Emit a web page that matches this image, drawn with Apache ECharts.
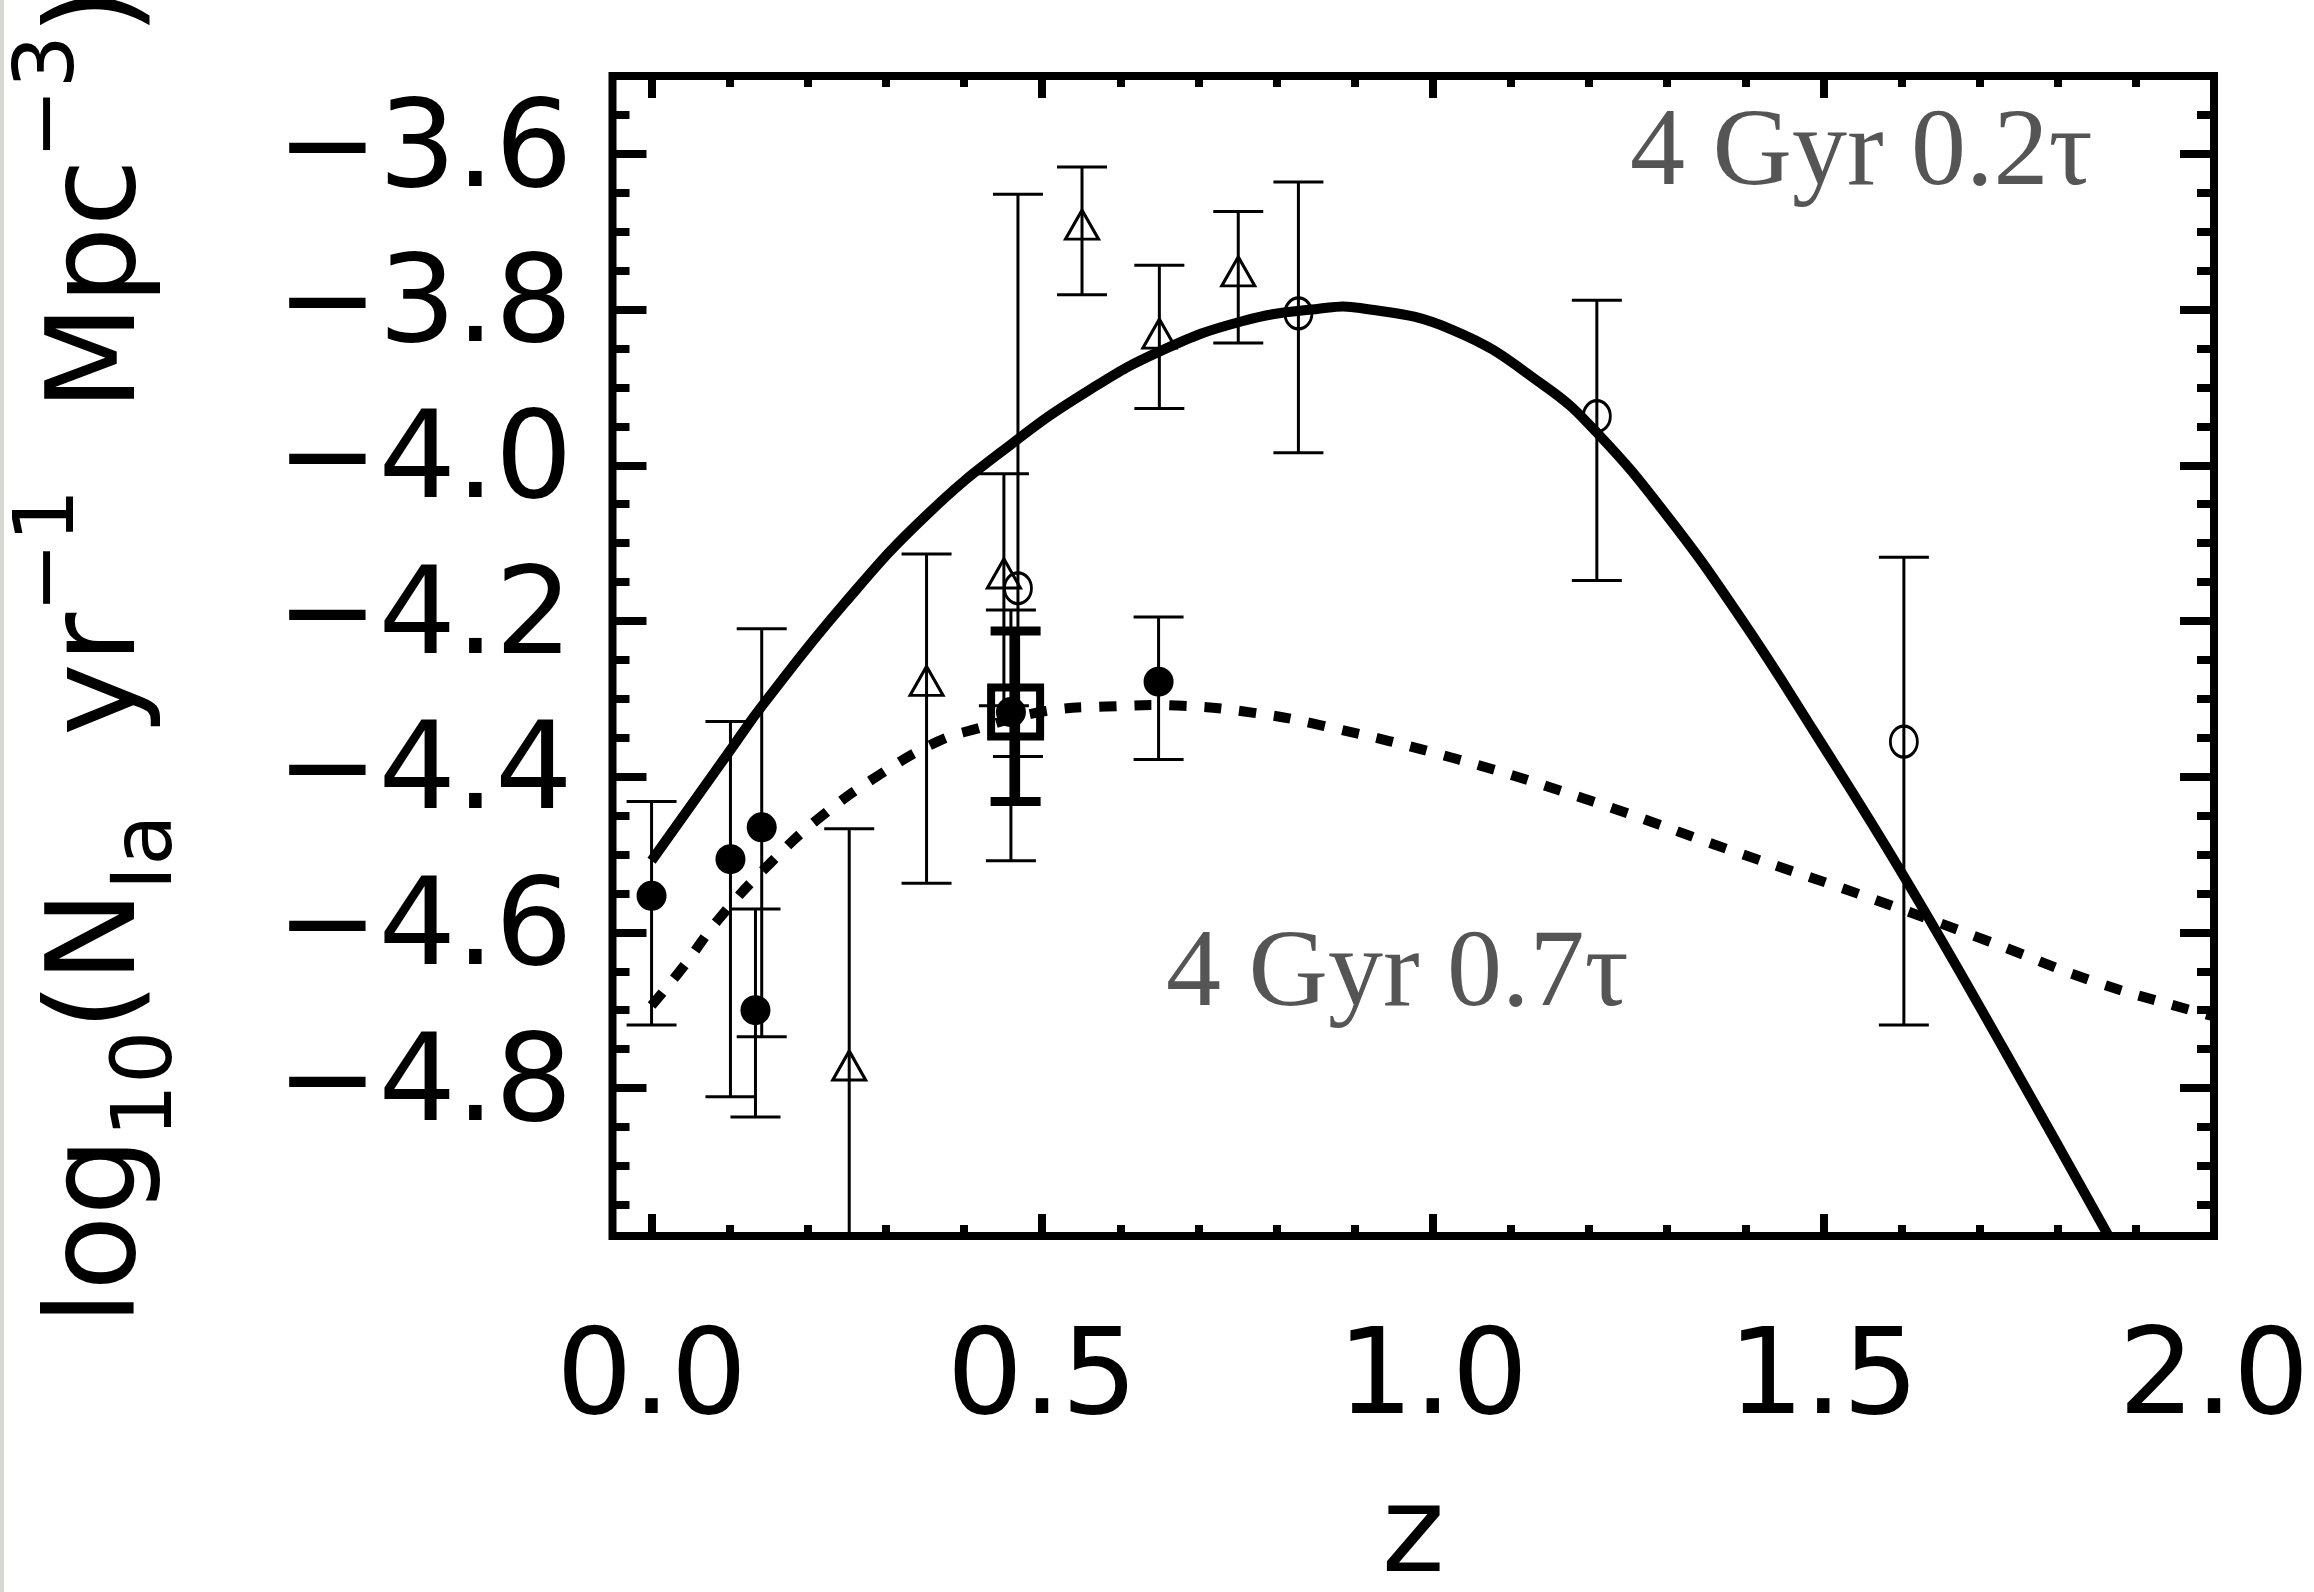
<!DOCTYPE html>
<html lang="en">
<head>
    <meta charset="UTF-8">
    <title>log10 SN Ia rate vs z</title>
    <script src="https://cdn.jsdelivr.net/npm/echarts@6/dist/echarts.min.js"></script>
    <style>
        html, body { margin: 0; padding: 0; background: #fff; }
        #myCharts { width: 2314px; height: 1592px; }
    </style>
</head>
<body>
<div id="myCharts"></div>

<script>
    // tick positions
    const xMajor = [0, 0.5, 1.0, 1.5, 2.0];
    const xMinor = [0.1, 0.2, 0.3, 0.4, 0.6, 0.7, 0.8, 0.9, 1.1, 1.2, 1.3, 1.4, 1.6, 1.7, 1.8, 1.9];
    const yMajor = [-4.8, -4.6, -4.4, -4.2, -4.0, -3.8, -3.6];
    const yMinor = [-4.95, -4.9, -4.85, -4.75, -4.7, -4.65, -4.55, -4.5, -4.45, -4.35, -4.3, -4.25,
        -4.15, -4.1, -4.05, -3.95, -3.9, -3.85, -3.75, -3.7, -3.65, -3.55];

    // model curve: 4 Gyr 0.2 tau (solid)
    const solidZ = [0.0, 0.1, 0.143, 0.248, 0.353, 0.463, 0.561, 0.652, 0.756, 0.854, 0.907, 1.025,
        1.143, 1.21, 1.30, 1.394, 1.488, 1.606, 1.732, 1.865, 1.885];
    const solidY = [-4.508, -4.367, -4.307, -4.176, -4.063, -3.971, -3.903, -3.853, -3.815, -3.799, -3.798, -3.826,
        -3.898, -3.958, -4.065, -4.196, -4.342, -4.533, -4.752, -4.990, -5.026];

    // model curve: 4 Gyr 0.7 tau (dashed)
    const dashZ = [0.0, 0.04, 0.086, 0.151, 0.216, 0.291, 0.366, 0.418, 0.503, 0.582, 0.680, 0.771,
        0.857, 1.033, 1.205, 1.377, 1.549, 1.713, 1.846, 1.974, 2.0];
    const dashY = [-4.694, -4.645, -4.583, -4.512, -4.452, -4.398, -4.355, -4.338, -4.316, -4.310, -4.309, -4.318,
        -4.334, -4.378, -4.432, -4.493, -4.552, -4.612, -4.663, -4.701, -4.708];

    // filled circles
    const fcZ = [0.0, 0.101, 0.133, 0.141, 0.460, 0.649];
    const fcY = [-4.553, -4.506, -4.700, -4.465, -4.317, -4.278];
    const fcHi = [-4.432, -4.329, -4.570, -4.210, -4.186, -4.195];
    const fcLo = [-4.719, -4.811, -4.837, -4.734, -4.508, -4.378];

    // open triangles
    const trZ = [0.253, 0.352, 0.451, 0.551, 0.650, 0.751];
    const trY = [-4.771, -4.277, -4.139, -3.691, -3.831, -3.751];
    const trHi = [-4.467, -4.114, -4.011, -3.617, -3.743, -3.674];
    const trLo = [-5.075, -4.537, -4.309, -3.781, -3.927, -3.843];

    // open circles
    const ocZ = [0.469, 0.828, 1.210, 1.603];
    const ocY = [-4.158, -3.805, -3.937, -4.355];
    const ocHi = [-3.652, -3.636, -3.788, -4.118];
    const ocLo = [-4.374, -3.984, -4.148, -4.719];

    // square with thick bar
    const sqZ = [0.466];
    const sqY = [-4.317];
    const sqHi = [-4.213];
    const sqLo = [-4.432];

    const zip = (a, b) => a.map((v, i) => [v, b[i]]);
    const bars = (z, lo, hi) => z.map((v, i) => [v, lo[i], hi[i]]);

    const font = 'DejaVu Sans';
    const tickStyle = {color: '#000', width: 8};

    function errorBar(capHalf, width) {
        return function (params, api) {
            const x = api.value(0);
            const lo = api.coord([x, api.value(1)]);
            const hi = api.coord([x, api.value(2)]);
            const style = {stroke: '#000', lineWidth: width, fill: null};
            return {
                type: 'group',
                children: [
                    {type: 'line', shape: {x1: hi[0], y1: hi[1], x2: lo[0], y2: lo[1]}, style: style},
                    {type: 'line', shape: {x1: hi[0] - capHalf, y1: hi[1], x2: hi[0] + capHalf, y2: hi[1]}, style: style},
                    {type: 'line', shape: {x1: lo[0] - capHalf, y1: lo[1], x2: lo[0] + capHalf, y2: lo[1]}, style: style}
                ]
            };
        };
    }

    // smooth model curve drawn once, through the axis scales
    function curve(zs, ys, width, dash) {
        return function (params, api) {
            if (params.dataIndex !== 0) return null;
            const pts = zs.map((z, i) => api.coord([z, ys[i]]));
            return {
                type: 'polyline',
                shape: {points: pts, smooth: 0.45},
                style: {stroke: '#000', lineWidth: width, fill: null, lineDash: dash}
            };
        };
    }

    function xAxisDef(position, ticks, len, withLabel) {
        const ax = {
            type: 'value', position: position, min: -0.05, max: 2.0,
            axisLine: {show: false, onZero: false}, splitLine: {show: false},
            axisTick: {show: true, inside: true, length: len, customValues: ticks, lineStyle: tickStyle},
            axisLabel: {show: false}
        };
        if (withLabel) {
            ax.axisLabel = {
                show: true, customValues: xMajor, formatter: v => v.toFixed(1), margin: 86,
                fontFamily: font, fontSize: 120, lineHeight: 120, color: '#000'
            };
            ax.name = 'z';
            ax.nameLocation = 'middle';
            ax.nameGap = 244;
            ax.nameTextStyle = {fontFamily: font, fontSize: 120, lineHeight: 120, color: '#000'};
        }
        return ax;
    }

    function yAxisDef(position, ticks, len, withLabel) {
        const ax = {
            type: 'value', position: position, min: -4.99, max: -3.5,
            axisLine: {show: false, onZero: false}, splitLine: {show: false},
            axisTick: {show: true, inside: true, length: len, customValues: ticks, lineStyle: tickStyle},
            axisLabel: {show: false}
        };
        if (withLabel) {
            ax.axisLabel = {
                show: true, customValues: yMajor, margin: 40,
                formatter: v => '\u2212' + Math.abs(v).toFixed(1),
                fontFamily: font, fontSize: 122, color: '#000'
            };
            ax.name = '{m|log}{s|10}{m|(N}{s|Ia}{m|  yr}{p|\u22121}{m|  Mpc}{p|\u22123}{m|)}';
            ax.nameLocation = 'middle';
            ax.nameRotate = 90;
            ax.nameGap = 410;
            ax.nameTextStyle = {
                color: '#000', fontFamily: font,
                rich: {
                    m: {fontFamily: font, fontSize: 123, lineHeight: 200, verticalAlign: 'middle', color: '#000'},
                    s: {fontFamily: font, fontSize: 84, height: 106, lineHeight: 106, verticalAlign: 'bottom', color: '#000'},
                    p: {fontFamily: font, fontSize: 84, height: 98, lineHeight: 98, verticalAlign: 'top', color: '#000'}
                }
            };
        }
        return ax;
    }

    const openStyle = {color: 'rgba(0,0,0,0)', borderColor: '#000', borderWidth: 3, opacity: 1};

    const myChart = echarts.init(document.getElementById('myCharts'));
    myChart.setOption({
        animation: false,
        backgroundColor: '#fff',
        grid: {
            left: 612.5, right: 100, top: 76, bottom: 356,
            show: true, borderColor: '#000', borderWidth: 8, backgroundColor: 'transparent',
            containLabel: false, outerBoundsMode: 'none'
        },
        xAxis: [
            xAxisDef('bottom', xMajor, 22, true),
            xAxisDef('top', xMajor, 22, false),
            xAxisDef('bottom', xMinor, 11, false),
            xAxisDef('top', xMinor, 11, false)
        ],
        yAxis: [
            yAxisDef('left', yMajor, 34, true),
            yAxisDef('right', yMajor, 34, false),
            yAxisDef('left', yMinor, 17, false),
            yAxisDef('right', yMinor, 17, false)
        ],
        graphic: [
            {type: 'rect', left: 0, top: 0, shape: {width: 4, height: 1592}, style: {fill: '#d8d8d2'}, silent: true},
            {
                type: 'text', x: 1630, y: 155, silent: true,
                style: {text: '4 Gyr 0.2\u03c4', font: '110px "Liberation Serif"', fill: '#555', align: 'left', verticalAlign: 'middle'}
            },
            {
                type: 'text', x: 1166, y: 976, silent: true,
                style: {text: '4 Gyr 0.7\u03c4', font: '110px "Liberation Serif"', fill: '#555', align: 'left', verticalAlign: 'middle'}
            }
        ],
        series: [
            {
                type: 'custom', name: '4 Gyr 0.2tau', data: zip(solidZ, solidY), encode: {x: 0, y: 1},
                clip: true, silent: true, renderItem: curve(solidZ, solidY, 10, null)
            },
            {
                type: 'custom', name: '4 Gyr 0.7tau', data: zip(dashZ, dashY), encode: {x: 0, y: 1},
                clip: true, silent: true, renderItem: curve(dashZ, dashY, 10, [17, 18])
            },
            {type: 'custom', data: bars(fcZ, fcLo, fcHi), encode: {x: 0, y: [1, 2]}, clip: true, renderItem: errorBar(25, 3)},
            {type: 'custom', data: bars(trZ, trLo, trHi), encode: {x: 0, y: [1, 2]}, clip: true, renderItem: errorBar(25, 3)},
            {type: 'custom', data: bars(ocZ, ocLo, ocHi), encode: {x: 0, y: [1, 2]}, clip: true, renderItem: errorBar(25, 3)},
            {type: 'custom', data: bars(sqZ, sqLo, sqHi), encode: {x: 0, y: [1, 2]}, clip: true, renderItem: errorBar(25, 9)},
            {
                type: 'scatter', data: zip(fcZ, fcY), symbol: 'circle', symbolSize: 30,
                itemStyle: {color: '#000', opacity: 1}
            },
            {
                type: 'scatter', data: zip(trZ, trY), symbol: 'triangle', symbolSize: [33, 29],
                itemStyle: openStyle
            },
            {
                type: 'scatter', data: zip(ocZ, ocY), symbol: 'circle', symbolSize: [27, 31],
                itemStyle: openStyle
            },
            {
                type: 'scatter', data: zip(sqZ, sqY), symbol: 'rect', symbolSize: 49,
                itemStyle: {color: 'rgba(0,0,0,0)', borderColor: '#000', borderWidth: 8, opacity: 1}
            }
        ]
    });
</script>
</body>
</html>
